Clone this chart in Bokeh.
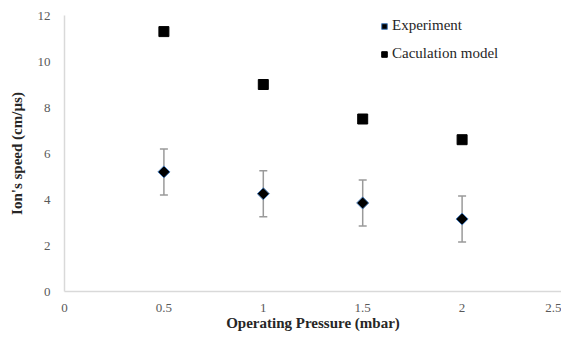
import math
from bokeh.plotting import figure
from bokeh.models import ColumnDataSource, Whisker, TeeHead, Range1d, Legend, LegendItem, SingleIntervalTicker
from bokeh.embed import file_html
from bokeh.resources import INLINE

pressure = [0.5, 1.0, 1.5, 2.0]
experiment = [5.2, 4.25, 3.85, 3.15]
exp_err = [1.0, 1.0, 1.0, 1.0]
model = [11.3, 9.0, 7.5, 6.6]

src = ColumnDataSource(dict(
    x=pressure, y=experiment,
    lo=[v - e for v, e in zip(experiment, exp_err)],
    hi=[v + e for v, e in zip(experiment, exp_err)],
    m=model,
))

SERIF = "Liberation Serif"

p = figure(width=561, height=333, output_backend="svg", toolbar_location=None,
           x_range=Range1d(0, 2.5), y_range=Range1d(0, 12),
           min_border_left=64, min_border_right=0, min_border_top=15, min_border_bottom=30)
p.outline_line_color = None
p.xgrid.visible = False
p.ygrid.visible = False

for ax in (p.xaxis[0], p.yaxis[0]):
    ax.axis_line_color = "#d9d9d9"
    ax.axis_line_width = 1.5
    ax.major_tick_line_color = None
    ax.minor_tick_line_color = None
    ax.major_label_text_font = SERIF
    ax.major_label_text_font_size = "13px"
    ax.major_label_text_color = "#595959"
    ax.axis_label_text_font = SERIF
    ax.axis_label_text_font_style = "bold"
    ax.axis_label_text_font_size = "15px"
    ax.axis_label_text_color = "#262626"

p.xaxis.ticker = SingleIntervalTicker(interval=0.5)
p.yaxis.ticker = SingleIntervalTicker(interval=2)
p.xaxis.axis_label = "Operating Pressure (mbar)"
p.yaxis.axis_label = "Ion's speed (cm/µs)"
p.xaxis.major_label_standoff = 6
p.xaxis.axis_label_standoff = 0
p.yaxis.major_label_standoff = 8
p.yaxis.axis_label_standoff = 10

w = Whisker(source=src, base="x", lower="lo", upper="hi",
            line_color="#9a9a9a", line_width=1.5,
            upper_head=TeeHead(size=8, line_color="#9a9a9a", line_width=1.5),
            lower_head=TeeHead(size=8, line_color="#9a9a9a", line_width=1.5))
p.add_layout(w)

r_exp = p.scatter("x", "y", source=src, marker="square", size=8.5, angle=math.pi / 4,
                  fill_color="black", line_color="#4a7ebb", line_width=1)
r_mod = p.scatter("x", "m", source=src, marker="square", size=10,
                  fill_color="black", line_color="black")

legend = Legend(items=[LegendItem(label="Experiment", renderers=[r_exp]),
                       LegendItem(label="Caculation model", renderers=[r_mod])],
                location=(313, 229), border_line_color=None, background_fill_alpha=0,
                label_text_font="serif", label_text_font_style="normal",
                label_text_font_size="15px",
                label_text_color="#262626", glyph_width=14, glyph_height=16,
                label_standoff=1, spacing=11, padding=0, label_height=16)
p.add_layout(legend, "center")

open("out.html", "w").write(file_html(p, INLINE))
